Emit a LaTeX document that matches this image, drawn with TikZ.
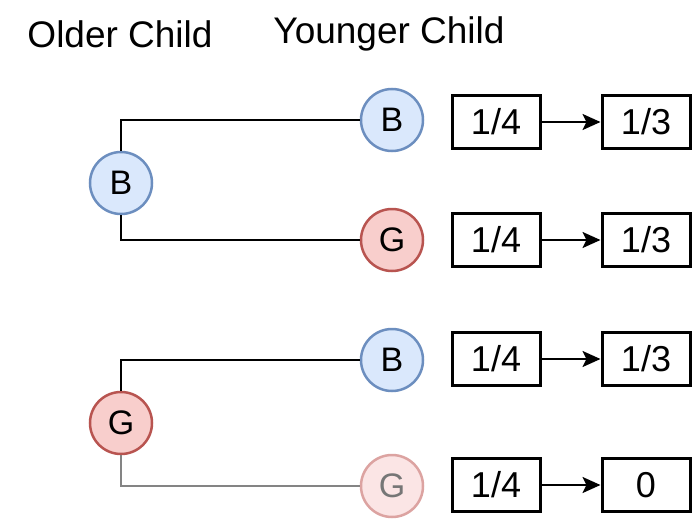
\documentclass[tikz,border=0pt]{standalone}
\usepackage{fontspec}
\setmainfont{Liberation Sans}
\usetikzlibrary{arrows.meta}
\definecolor{boyfill}{HTML}{DAE8FC}
\definecolor{boydraw}{HTML}{6C8EBF}
\definecolor{girlfill}{HTML}{F8CECC}
\definecolor{girldraw}{HTML}{B85450}
\definecolor{fadefill}{HTML}{FBE5E5}
\definecolor{fadedraw}{HTML}{DCA3A1}
\definecolor{fadetext}{HTML}{767676}

\begin{document}
\begin{tikzpicture}[x=1pt,y=-1pt,line width=2.5pt,node distance=150pt,
  kid node/.style={circle,draw,minimum size=62pt,inner sep=0pt,font=\fontsize{34}{34}\selectfont},
  boy/.style={kid node,fill=boyfill,draw=boydraw},
  girl/.style={kid node,fill=girlfill,draw=girldraw},
  prob node/.style={rectangle,draw,line width=3pt,minimum width=88pt,minimum height=53pt,
    inner sep=0pt,font=\fontsize{36}{36}\selectfont},
  prob arrow/.style={-{Stealth[length=18pt,width=16pt,inset=4pt]}}]
  \useasboundingbox (0,0) rectangle (693,519);

  \node (older) at (120,34) {\fontsize{37}{37}\selectfont Older Child};
  \node (younger) at (389,34) {\fontsize{37}{37}\selectfont Younger Child};

  \node[boy] (B) at (121,183) {B};
  \node[girl] (G) at (121,423) {G};
  \node[boy] (BB) at (392,120) {B};
  \node[girl] (BG) at (392,240) {G};
  \node[boy] (GB) at (392,360) {B};
  \node[kid node,fill=fadefill,draw=fadedraw,text=fadetext] (GG) at (392,486) {G};

  \node[prob node] (p1) at (496,122) {1/4};
  \node[prob node] (q1) [right of=p1] {1/3};
  \node[prob node] (p2) at (496,240) {1/4};
  \node[prob node] (q2) [right of=p2] {1/3};
  \node[prob node] (p3) at (496,359) {1/4};
  \node[prob node] (q3) [right of=p3] {1/3};
  \node[prob node] (p4) at (496,485) {1/4};
  \node[prob node] (q4) [right of=p4] {0};

  \draw (B.north) |- (BB.west);
  \draw (B.south) |- (BG.west);
  \draw (G.north) |- (GB.west);
  \draw[color=fadetext!90] (G.south) |- (GG.west);

  \draw[prob arrow] (p1) -- (q1);
  \draw[prob arrow] (p2) -- (q2);
  \draw[prob arrow] (p3) -- (q3);
  \draw[prob arrow] (p4) -- (q4);
\end{tikzpicture}
\end{document}
